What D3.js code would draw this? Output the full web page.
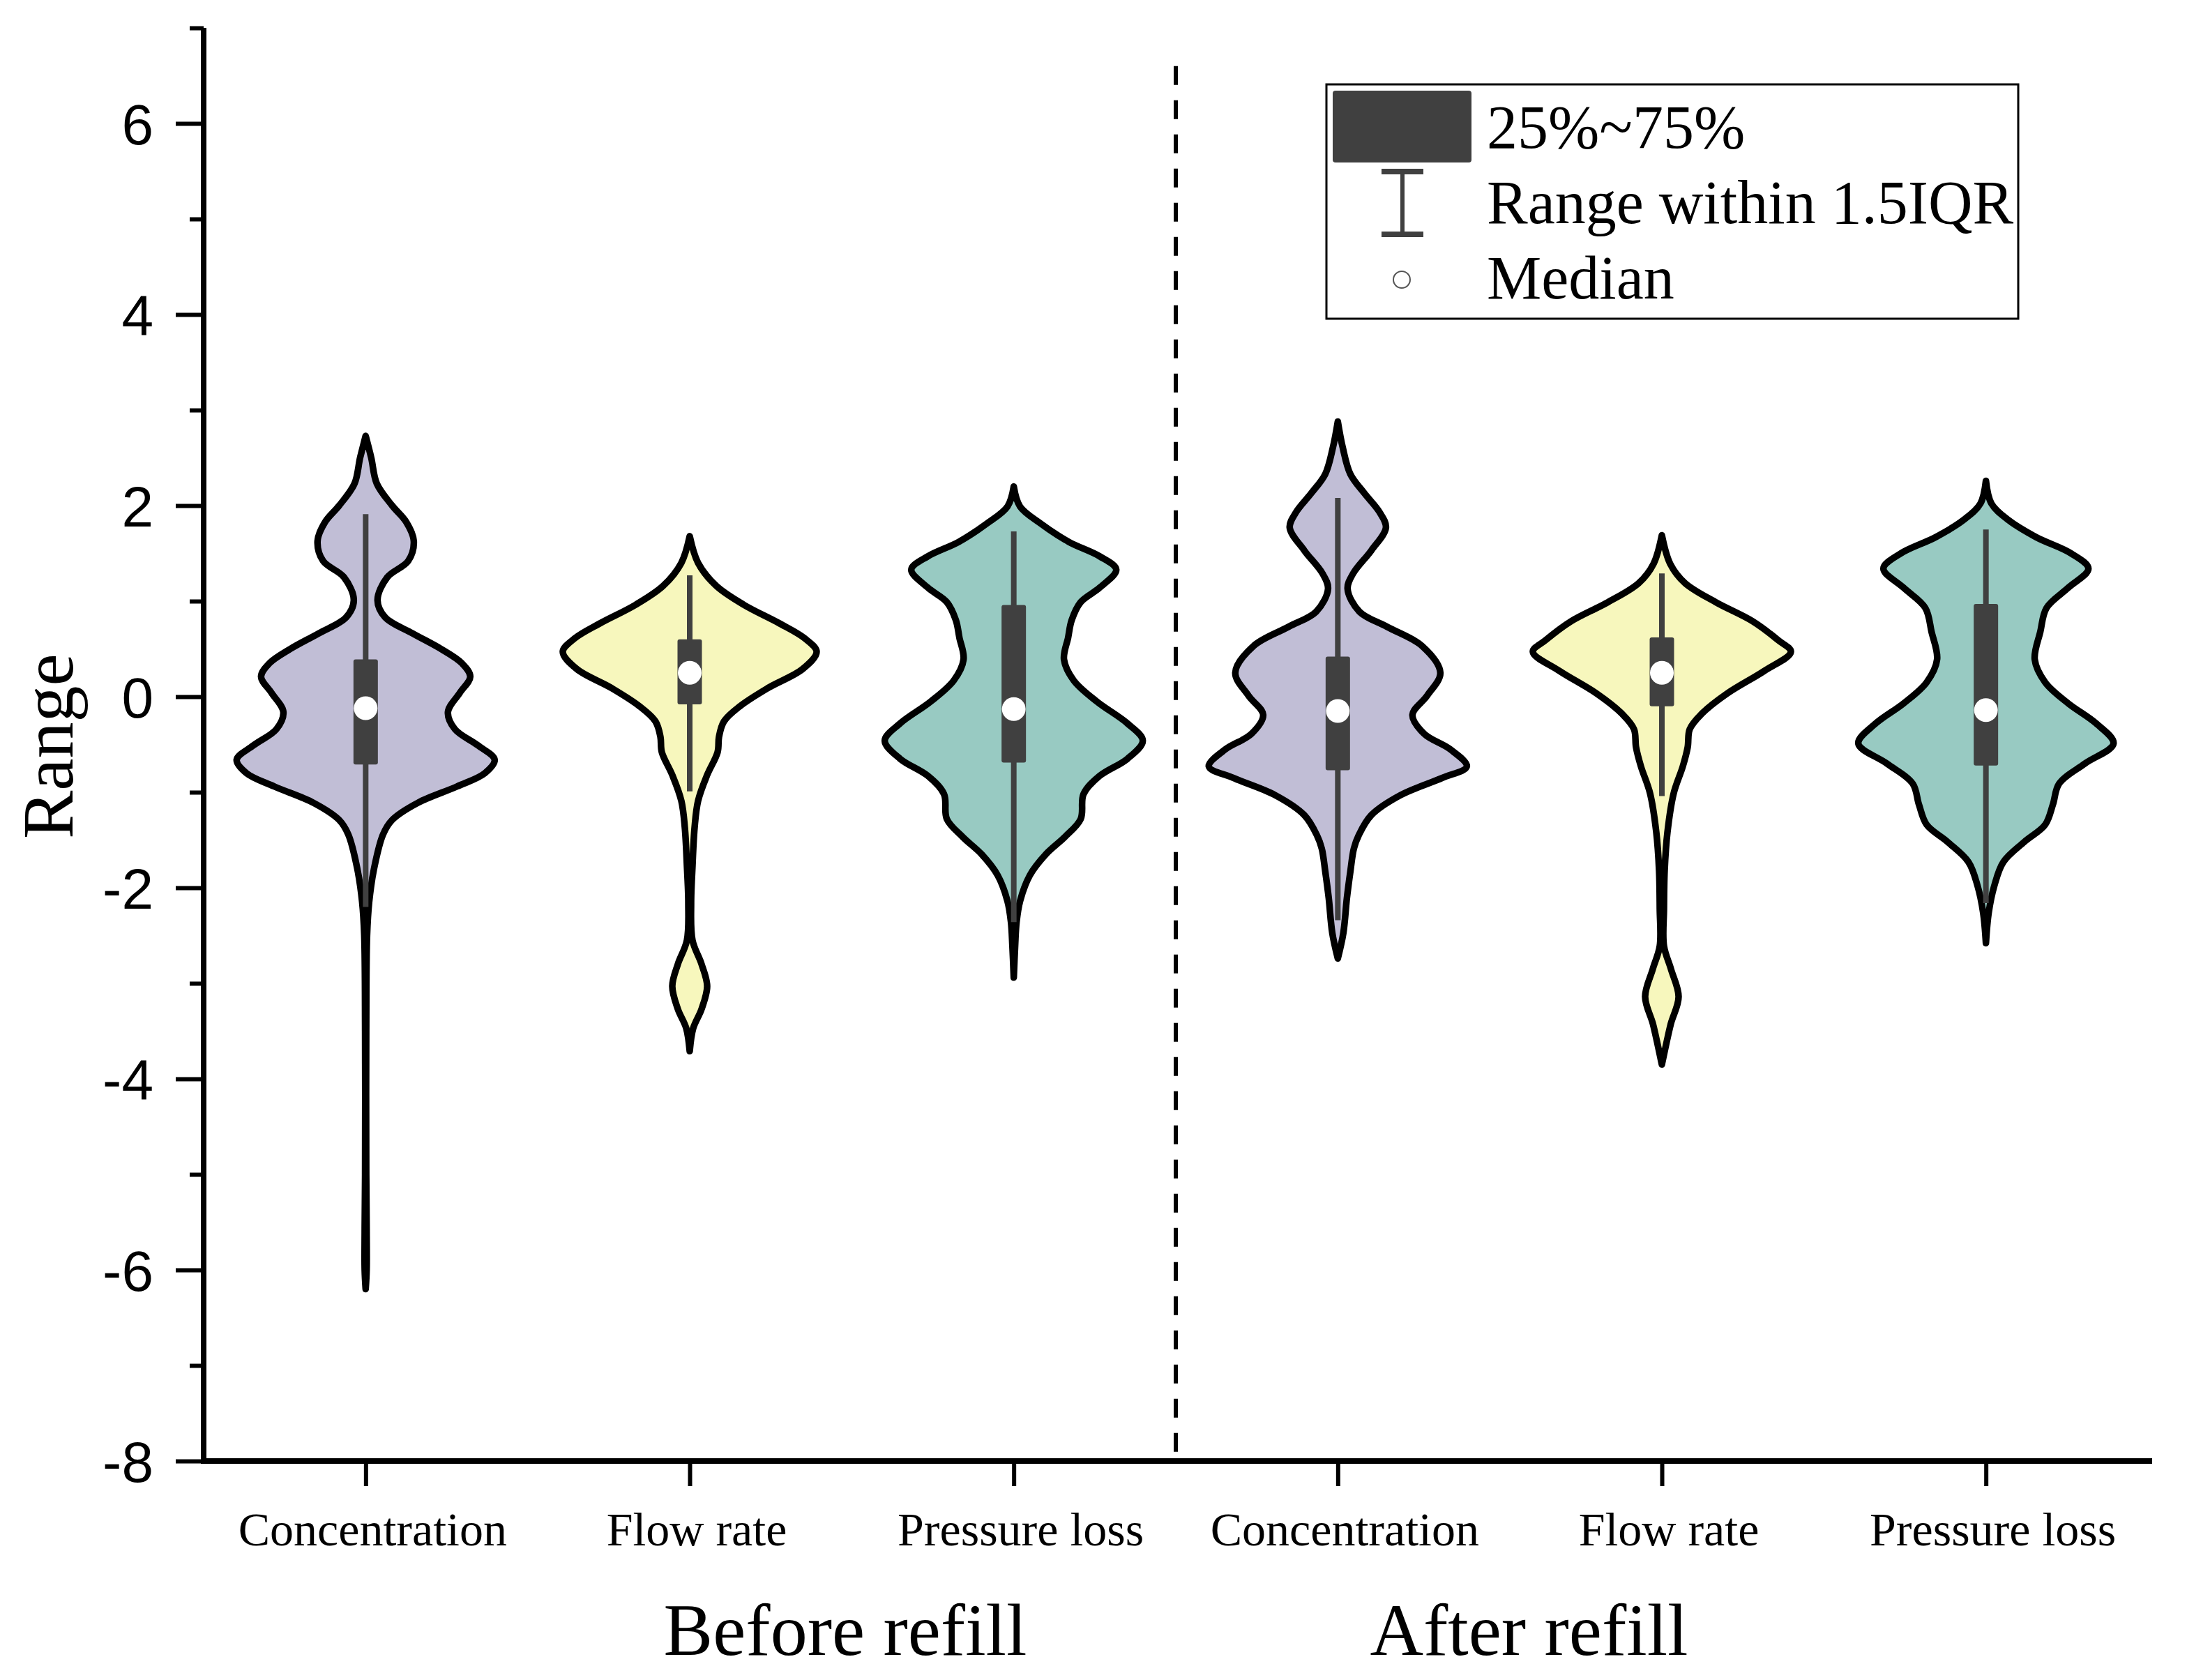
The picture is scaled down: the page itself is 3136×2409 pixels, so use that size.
<!DOCTYPE html>
<html>
<head>
<meta charset="utf-8">
<script src="https://cdn.jsdelivr.net/npm/d3@7"></script>
<style>
  html, body { margin: 0; padding: 0; background: #fff; }
  svg { display: block; }
</style>
</head>
<body>
<div id="chart"></div>
<script>
// ---------------- data ----------------
const categories = ["Concentration", "Flow rate", "Pressure loss", "Concentration", "Flow rate", "Pressure loss"];
const groups = ["Before refill", "After refill"];
const yTicks = [-8, -6, -4, -2, 0, 2, 4, 6];
const yMinorTicks = [-7, -5, -3, -1, 1, 3, 5, 7];

// violin density profiles: [value, relative density]
const densConcBefore = [[2.73,0],[2.50,.04],[2.23,.08],[2.00,.19],[1.83,.29],[1.63,.345],[1.42,.305],[1.25,.155],[1.01,.085],[0.83,.14],[0.66,.34],[0.50,.54],[0.35,.69],[0.21,.75],[0.04,.675],[-0.16,.59],[-0.34,.64],[-0.51,.805],[-0.66,.925],[-0.80,.855],[-0.94,.655],[-1.11,.375],[-1.29,.19],[-1.44,.125],[-1.80,.06],[-2.15,.025],[-2.50,.01],[-3.5,.004],[-5.0,.004],[-5.6,.007],[-6.0,.007],[-6.2,0]];
const densFlowBefore = [[1.68,0],[1.40,.06],[1.16,.19],[0.96,.39],[0.77,.64],[0.61,.825],[0.47,.91],[0.29,.81],[0.09,.56],[-0.10,.36],[-0.26,.245],[-0.42,.21],[-0.58,.2],[-0.82,.125],[-1.09,.06],[-1.37,.035],[-1.77,.02],[-2.16,.01],[-2.55,.02],[-2.80,.085],[-3.03,.125],[-3.27,.085],[-3.47,.025],[-3.71,0]];
const densPressBefore = [[2.20,0],[1.99,.045],[1.81,.195],[1.62,.395],[1.47,.615],[1.33,.735],[1.14,.615],[0.99,.48],[0.80,.415],[0.62,.39],[0.39,.36],[0.17,.43],[-0.05,.595],[-0.28,.815],[-0.46,.925],[-0.65,.815],[-0.83,.615],[-1.02,.5],[-1.28,.48],[-1.47,.365],[-1.65,.23],[-1.87,.115],[-2.14,.045],[-2.36,.02],[-2.6,.01],[-2.94,0]];
const densConcAfter = [[2.88,0],[2.61,.035],[2.33,.09],[2.13,.19],[1.93,.30],[1.77,.345],[1.53,.24],[1.29,.11],[1.13,.07],[0.89,.155],[0.73,.355],[0.53,.605],[0.25,.735],[0.01,.64],[-0.19,.535],[-0.39,.62],[-0.55,.805],[-0.73,.925],[-0.85,.75],[-1.03,.45],[-1.24,.24],[-1.45,.15],[-1.59,.115],[-1.83,.09],[-2.11,.065],[-2.47,.04],[-2.74,0]];
const densFlowAfter = [[1.69,0],[1.39,.06],[1.19,.165],[0.99,.385],[0.79,.65],[0.59,.835],[0.47,.925],[0.27,.735],[0.03,.465],[-0.18,.285],[-0.34,.2],[-0.53,.185],[-0.73,.15],[-1.01,.085],[-1.42,.04],[-1.82,.02],[-2.22,.015],[-2.61,.015],[-2.85,.065],[-3.14,.12],[-3.42,.065],[-3.61,.035],[-3.85,0]];
const densPressAfter = [[2.26,0],[2.02,.04],[1.85,.16],[1.67,.36],[1.50,.61],[1.34,.735],[1.14,.59],[0.93,.435],[0.68,.39],[0.39,.35],[0.15,.425],[-0.07,.59],[-0.28,.79],[-0.49,.915],[-0.70,.71],[-0.91,.525],[-1.13,.48],[-1.34,.425],[-1.52,.275],[-1.73,.125],[-1.98,.06],[-2.26,.02],[-2.58,0]];
const densities = [densConcBefore, densFlowBefore, densPressBefore, densConcAfter, densFlowAfter, densPressAfter];

// box statistics
const whiskerLow  = [-2.20, -0.99, -2.36, -2.34, -1.04, -2.16];
const q1          = [-0.71, -0.08, -0.69, -0.77, -0.10, -0.72];
const median      = [-0.12,  0.25, -0.13, -0.15,  0.25, -0.14];
const q3          = [ 0.39,  0.60,  0.96,  0.42,  0.62,  0.97];
const whiskerHigh = [ 1.91,  1.27,  1.73,  2.08,  1.29,  1.75];

const legendLabels = ["25%~75%", "Range within 1.5IQR", "Median"];

// ---------------- drawing ----------------
const W = 3136, H = 2409;
const fills = ["#C1BED6", "#F7F7BD", "#98CAC2", "#C1BED6", "#F7F7BD", "#98CAC2"];
const dark = "#404040";
const serif = "'Liberation Serif', 'Times New Roman', serif";
const sans = "'Liberation Sans', Arial, sans-serif";

const svg = d3.select("#chart").append("svg")
  .attr("width", W).attr("height", H)
  .attr("viewBox", `0 0 ${W} ${H}`);
svg.append("rect").attr("width", W).attr("height", H).attr("fill", "#fff");

const x = d3.scaleLinear().domain([0.5, 6.5]).range([292, 3080]);
const y = d3.scaleLinear().domain([-8, 7]).range([2095, 40]);
const w = d3.scaleLinear().domain([0, 1]).range([0, 200]);

// violins
const g = svg.append("g");
densities.forEach((dens, i) => {
  const cx = x(i + 1);
  const area = d3.area()
    .y(d => y(d[0]))
    .x0(d => cx - w(d[1]))
    .x1(d => cx + w(d[1]))
    .curve(d3.curveCatmullRom.alpha(0.5));
  g.append("path")
    .attr("d", area(dens))
    .attr("fill", fills[i])
    .attr("stroke", "#000")
    .attr("stroke-width", 9.5)
    .attr("stroke-linejoin", "round");
});

// boxes
categories.forEach((c, i) => {
  const cx = x(i + 1);
  g.append("line")
    .attr("x1", cx).attr("x2", cx)
    .attr("y1", y(whiskerLow[i])).attr("y2", y(whiskerHigh[i]))
    .attr("stroke", dark).attr("stroke-width", 8);
  g.append("rect")
    .attr("x", cx - 17.5).attr("width", 35)
    .attr("y", y(q3[i])).attr("height", y(q1[i]) - y(q3[i]))
    .attr("rx", 3)
    .attr("fill", dark);
  g.append("circle")
    .attr("cx", cx).attr("cy", y(median[i])).attr("r", 17)
    .attr("fill", "#fff");
});

// dashed separator
svg.append("line")
  .attr("x1", x(3.5)).attr("x2", x(3.5))
  .attr("y1", y(6.6)).attr("y2", y(-8))
  .attr("stroke", "#000").attr("stroke-width", 6)
  .attr("stroke-dasharray", "27,22");

// y axis
const yAxis = svg.append("g").attr("transform", `translate(${x(0.5)},0)`)
  .call(d3.axisLeft(y).tickValues(yTicks).tickSize(40).tickPadding(32).tickFormat(d => String(d)));
yAxis.select(".domain").remove();
yAxis.selectAll(".tick line").attr("stroke", "#000").attr("stroke-width", 6);
yAxis.selectAll(".tick text")
  .attr("font-family", sans).attr("font-size", 82).attr("fill", "#000")
  .attr("dy", "0.36em");
const yMinor = svg.append("g").attr("transform", `translate(${x(0.5)},0)`)
  .call(d3.axisLeft(y).tickValues(yMinorTicks).tickSize(20).tickFormat(""));
yMinor.select(".domain").remove();
yMinor.selectAll(".tick line").attr("stroke", "#000").attr("stroke-width", 6);

// x axis ticks
const xAxis = svg.append("g").attr("transform", `translate(0,${y(-8)})`)
  .call(d3.axisBottom(x).tickValues(d3.range(1, 7)).tickSize(36).tickFormat(""));
xAxis.select(".domain").remove();
xAxis.selectAll(".tick line").attr("stroke", "#000").attr("stroke-width", 6);

// axis lines
svg.append("line").attr("x1", x(0.5)).attr("x2", x(0.5))
  .attr("y1", y(7)).attr("y2", y(-8) + 4)
  .attr("stroke", "#000").attr("stroke-width", 8);
svg.append("line").attr("x1", x(0.5) - 4).attr("x2", 3086)
  .attr("y1", y(-8)).attr("y2", y(-8))
  .attr("stroke", "#000").attr("stroke-width", 8);

// category labels
categories.forEach((c, i) => {
  svg.append("text")
    .attr("x", x(i + 1) + 10).attr("y", 2216)
    .attr("text-anchor", "middle")
    .attr("font-family", serif).attr("font-size", 68)
    .text(c);
});

// group labels
const groupPos = [2.48, 4.59];
groups.forEach((t, i) => {
  svg.append("text")
    .attr("x", x(groupPos[i])).attr("y", 2373)
    .attr("text-anchor", "middle")
    .attr("font-family", serif).attr("font-size", 106)
    .text(t);
});

// y axis title
svg.append("text")
  .attr("transform", `translate(104, ${y(-0.52)}) rotate(-90)`)
  .attr("text-anchor", "middle")
  .attr("font-family", serif).attr("font-size", 104)
  .text("Range");

// legend
const lg = svg.append("g");
lg.append("rect").attr("x", 1902).attr("y", 121).attr("width", 992).attr("height", 336)
  .attr("fill", "#fff").attr("stroke", "#000").attr("stroke-width", 3);
lg.append("rect").attr("x", 1911).attr("y", 130).attr("width", 199).attr("height", 103)
  .attr("rx", 4).attr("fill", dark);
lg.append("line").attr("x1", 2011).attr("x2", 2011).attr("y1", 246).attr("y2", 336)
  .attr("stroke", dark).attr("stroke-width", 6);
lg.append("line").attr("x1", 1981).attr("x2", 2041).attr("y1", 246).attr("y2", 246)
  .attr("stroke", dark).attr("stroke-width", 8);
lg.append("line").attr("x1", 1981).attr("x2", 2041).attr("y1", 336).attr("y2", 336)
  .attr("stroke", dark).attr("stroke-width", 8);
lg.append("circle").attr("cx", 2010).attr("cy", 401).attr("r", 12)
  .attr("fill", "#fff").attr("stroke", "#555").attr("stroke-width", 2);
legendLabels.forEach((t, i) => {
  lg.append("text")
    .attr("x", 2132).attr("y", 212 + i * 108)
    .attr("font-family", serif).attr("font-size", 88)
    .text(t);
});
</script>
</body>
</html>
